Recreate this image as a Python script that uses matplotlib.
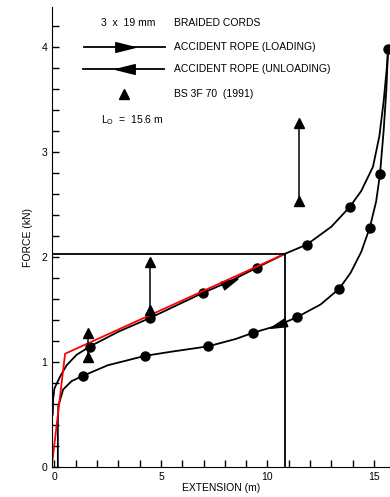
import matplotlib.pyplot as plt
from matplotlib.markers import MarkerStyle
from matplotlib.path import Path
from matplotlib.transforms import Affine2D

plt.rcParams['font.family'] = ['Liberation Sans', 'DejaVu Sans']

# accident rope, loading branch (traced curve + measured points)
load_x = [-0.08, -0.06, 0.0, 0.26, 0.57, 1.04, 1.67, 3.0, 4.48, 6.97, 8.24, 9.5, 10.8,
          11.85, 13.0, 13.87, 14.4, 14.95, 15.25, 15.45, 15.6, 15.66]
load_y = [0.50, 0.65, 0.75, 0.86, 0.97, 1.07, 1.15, 1.29, 1.42, 1.66, 1.77, 1.90, 2.03,
          2.12, 2.29, 2.48, 2.63, 2.86, 3.15, 3.48, 3.80, 3.98]
load_pts_x = [1.67, 4.48, 6.97, 9.5, 11.85, 13.87, 15.66]
load_pts_y = [1.14, 1.42, 1.66, 1.90, 2.12, 2.48, 3.98]

# accident rope, unloading branch
unload_x = [0.16, 0.16, 0.18, 0.41, 0.81, 1.34, 2.5, 4.25, 5.5, 7.2, 8.5, 9.33, 10.5,
            11.4, 12.5, 13.37, 13.9, 14.4, 14.8, 15.1, 15.28, 15.45, 15.58, 15.66]
unload_y = [0.0, 0.40, 0.58, 0.74, 0.82, 0.87, 0.97, 1.06, 1.10, 1.15, 1.22, 1.28, 1.35,
            1.43, 1.55, 1.70, 1.85, 2.05, 2.28, 2.53, 2.79, 3.20, 3.60, 3.98]
unload_pts_x = [1.34, 4.25, 7.2, 9.33, 11.4, 13.37, 14.8, 15.28]
unload_pts_y = [0.87, 1.06, 1.15, 1.28, 1.43, 1.70, 2.28, 2.79]

# bilinear fit (red)
red_x = [-0.1, 0.5, 10.8]
red_y = [0.05, 1.08, 2.03]

# BS 3F 70 (1991) ranges
bs_x = [1.59, 4.48, 11.5]
bs_lo = [1.05, 1.50, 2.53]
bs_hi = [1.28, 1.95, 3.28]

peak_x = 10.8
peak_y = 2.03

# long thin arrowhead pointing right
head = Path([(-1, -0.5), (1, 0), (-1, 0.5), (-1, -0.5)], closed=True)


def arrow(deg):
    return MarkerStyle(head, transform=Affine2D().rotate_deg(deg))


fig = plt.figure(figsize=(3.9, 4.97), dpi=100)
ax = fig.add_axes([0.133, 0.060, 0.867, 0.9256])

ax.plot(load_x, load_y, color='black', lw=1.3)
ax.plot(unload_x, unload_y, color='black', lw=1.3)
ax.plot(load_pts_x, load_pts_y, 'o', color='black', ms=6.5)
ax.plot(unload_pts_x, unload_pts_y, 'o', color='black', ms=6.5)
# direction arrows on the curves
ax.plot([8.24], [1.76], marker=arrow(25), color='black', ms=12)
ax.plot([10.5], [1.35], marker=arrow(200), color='black', ms=12)

ax.plot(red_x, red_y, color='red', lw=1.3)

ax.plot([-0.12, peak_x], [peak_y, peak_y], color='black', lw=1.3)
ax.plot([peak_x, peak_x], [0, peak_y], color='black', lw=1.3)

for x, lo, hi in zip(bs_x, bs_lo, bs_hi):
    ax.plot([x, x], [lo, hi], color='black', lw=1.1)
    ax.plot([x, x], [lo, hi], '^', color='black', ms=6.5)

# legend block
ax.text(2.2, 4.23, '3  x  19 mm', fontsize=7.5, va='center')
ax.text(5.6, 4.23, 'BRAIDED CORDS', fontsize=7.5, va='center')
ax.plot([1.4, 5.2], [4.0, 4.0], color='black', lw=1.3)
ax.plot([3.3], [4.0], marker=arrow(0), color='black', ms=14)
ax.text(5.6, 4.0, 'ACCIDENT ROPE (LOADING)', fontsize=7.5, va='center')
ax.plot([1.35, 5.15], [3.79, 3.79], color='black', lw=1.3)
ax.plot([3.3], [3.79], marker=arrow(180), color='black', ms=14)
ax.text(5.6, 3.79, 'ACCIDENT ROPE (UNLOADING)', fontsize=7.5, va='center')
ax.plot([3.25], [3.55], '^', color='black', ms=6.5)
ax.text(5.6, 3.55, 'BS 3F 70  (1991)', fontsize=7.5, va='center')
ax.text(2.2, 3.30, r'L$_\mathsf{O}$  =  15.6 m', fontsize=7.5, va='center')

ax.set_xlim(-0.12, 15.75)
ax.set_ylim(0, 4.38)
ax.spines['top'].set_visible(False)
ax.spines['right'].set_visible(False)
ax.set_xticks([0, 5, 10, 15])
ax.set_xticks(range(0, 16), minor=True)
ax.set_yticks([0, 1, 2, 3, 4])
ax.set_yticks([i * 0.2 for i in range(22)], minor=True)
ax.tick_params(which='both', direction='in', length=5, width=1, labelsize=7.5)
ax.set_xlabel('EXTENSION (m)', fontsize=7.5, labelpad=1)
ax.set_ylabel('FORCE (kN)', fontsize=7.5, labelpad=6)

fig.savefig('out.png', dpi=100)
